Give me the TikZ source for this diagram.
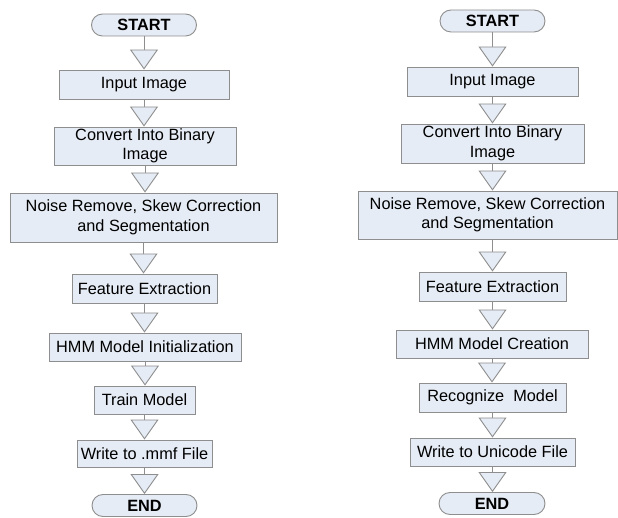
\documentclass[tikz,border=0pt]{standalone}
\usepackage{fontspec}
\setmainfont{Liberation Sans}
\usetikzlibrary{arrows.meta}
\definecolor{boxfill}{HTML}{E6ECF5}
\definecolor{boxline}{HTML}{8E8E8E}
\tikzset{proc/.style 2 args={draw=boxline, fill=boxfill, line width=0.9pt, inner sep=0pt,
    minimum width=#1, minimum height=#2, align=center,
    font=\fontsize{16.3}{19.5}\selectfont},
  term/.style={proc={#1}{22pt}, rounded corners=11pt, font=\fontsize{16.3}{19.5}\selectfont\bfseries},
  flow/.style={draw=boxline, line width=0.9pt,
    -{Triangle[width=28pt, length=20pt, fill=boxfill, line width=0.9pt]}}}
\begin{document}
\begin{tikzpicture}[x=1pt, y=-1pt]
  \fill[white] (0,0) rectangle (618,518);
  \useasboundingbox (0,0) rectangle (618,518);
  % training
  \node [term=105] (startL) at (144,25) {START};
  \node [proc={170}{29}] (inL) at (144,84.5) {Input Image};
  \node [proc={182}{38}] (binL) at (145,146) {Convert Into Binary\\Image};
  \node [proc={267}{49}] (noiseL) at (143.5,217.5) {Noise Remove, Skew Correction\\and Segmentation};
  \node [proc={145}{29}] (featL) at (144.5,288.5) {Feature Extraction};
  \node [proc={192}{28}] (hmmL) at (145,347) {HMM Model Initialization};
  \node [proc={101}{28}] (trainL) at (144.5,400) {Train Model};
  \node [proc={135}{27}] (outL) at (144.5,453.5) {Write to .mmf File};
  \node [term=105] (endL) at (144.5,505.5) {END};
  % recognition
  \node [term=105] (startR) at (492.5,21) {START};
  \node [proc={171}{29}] (inR) at (492.5,81.5) {Input Image};
  \node [proc={183}{39}] (binR) at (492.5,143.5) {Convert Into Binary\\Image};
  \node [proc={259}{48}] (noiseR) at (487.5,215) {Noise Remove, Skew Correction\\and Segmentation};
  \node [proc={147}{29}] (featR) at (492.5,286.5) {Feature Extraction};
  \node [proc={192}{28}] (hmmR) at (492,344) {HMM Model Creation};
  \node [proc={147}{29}] (recR) at (492.5,397.5) {Recognize\ \ Model};
  \node [proc={165}{28}] (outR) at (492.5,452) {Write to Unicode File};
  \node [term=106] (endR) at (492,503.5) {END};
  \foreach \a/\b in {startL/inL, inL/binL, binL/noiseL, noiseL/featL, featL/hmmL, hmmL/trainL, trainL/outL, outL/endL,
    startR/inR, inR/binR, featR/hmmR, hmmR/recR, recR/outR, outR/endR}
    \draw [flow] (\a.south) -- (\a.south |- \b.north);
  \draw [flow] (binR.south) -- (binR.south |- noiseR.north);
  \draw [flow] (noiseR.south -| featR.north) -- (featR.north);
\end{tikzpicture}
\end{document}
